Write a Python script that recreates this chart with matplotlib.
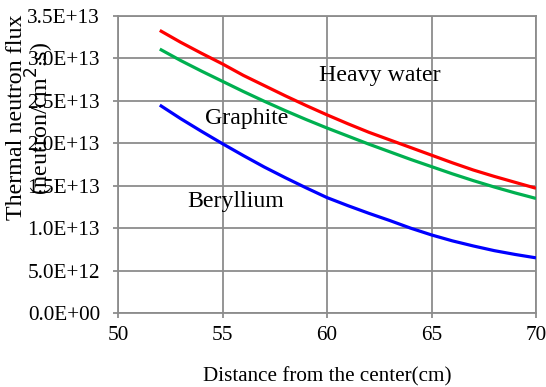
import matplotlib
matplotlib.use("Agg")
import matplotlib.pyplot as plt
from matplotlib.ticker import FuncFormatter, MultipleLocator

# Thermal neutron flux (neutron/cm^2.s) versus distance from the core centre
distance_cm = [52, 53, 54, 55, 56, 57, 58, 59, 60, 61,
               62, 63, 64, 65, 66, 67, 68, 69, 70]
heavy_water = [33.3e12, 31.9e12, 30.6e12, 29.35e12, 28.0e12, 26.8e12, 25.6e12, 24.45e12, 23.35e12, 22.3e12,
               21.3e12, 20.4e12, 19.5e12, 18.6e12, 17.7e12, 16.85e12, 16.1e12, 15.4e12, 14.7e12]
graphite = [31.1e12, 29.75e12, 28.5e12, 27.3e12, 26.1e12, 24.95e12, 23.85e12, 22.8e12, 21.8e12, 20.85e12,
            19.9e12, 19.0e12, 18.1e12, 17.25e12, 16.4e12, 15.6e12, 14.85e12, 14.15e12, 13.5e12]
beryllium = [24.5e12, 22.9e12, 21.4e12, 19.95e12, 18.55e12, 17.2e12, 15.95e12, 14.75e12, 13.6e12, 12.65e12,
             11.75e12, 10.9e12, 10.0e12, 9.2e12, 8.5e12, 7.9e12, 7.35e12, 6.9e12, 6.5e12]

series_names = ["Heavy water", "Graphite", "Beryllium"]
series_colors = ["#FF0000", "#00B050", "#0000FF"]

plt.rcParams["font.family"] = ["Liberation Serif", "DejaVu Serif"]

fig = plt.figure(figsize=(5.46, 3.87), dpi=100)
ax = fig.add_axes([118 / 546, 1 - 313 / 387, (536 - 118) / 546, (313 - 16) / 387])

for vals, col in zip([heavy_water, graphite, beryllium], series_colors):
    ax.plot(distance_cm, vals, color=col, lw=2.3, solid_capstyle="butt", zorder=3)

ax.set_xlim(50, 70)
ax.set_ylim(0, 3.5e13)
ax.xaxis.set_major_locator(MultipleLocator(5))
ax.yaxis.set_major_locator(MultipleLocator(5e12))
ax.yaxis.set_major_formatter(FuncFormatter(lambda v, p: f"{v:.1E}"))

grid_col = "#8C8C8C"
ax.grid(True, color=grid_col, lw=1.3)
ax.set_axisbelow(True)
for s in ax.spines.values():
    s.set_color(grid_col)
    s.set_linewidth(1.3)
ax.tick_params(axis="both", direction="out", length=3.6, width=1.3, color=grid_col,
               labelsize=15.3, labelcolor="black")
ax.tick_params(axis="x", pad=6)
ax.tick_params(axis="y", pad=9.4)

# Curve labels
label_pos = [(59.6, 28.0e12), (54.16, 22.9e12), (53.3, 13.1e12)]
for name, (lx, ly) in zip(series_names, label_pos):
    ax.text(lx, ly, name, fontsize=17.2, va="center", ha="left")

fig.text(327 / 546, 1 - 377 / 387, "Distance from the center(cm)", fontsize=15.2,
         ha="center", va="center")
fig.text(17 / 546, 1 - 117 / 387, "Thermal neutron flux", fontsize=17.3,
         rotation=90, ha="center", va="center")
fig.text(40 / 546, 1 - 118 / 387, "(neutron/cm$^2$.s)", fontsize=17.3,
         rotation=90, ha="center", va="center")

fig.savefig("out.png", dpi=100)
